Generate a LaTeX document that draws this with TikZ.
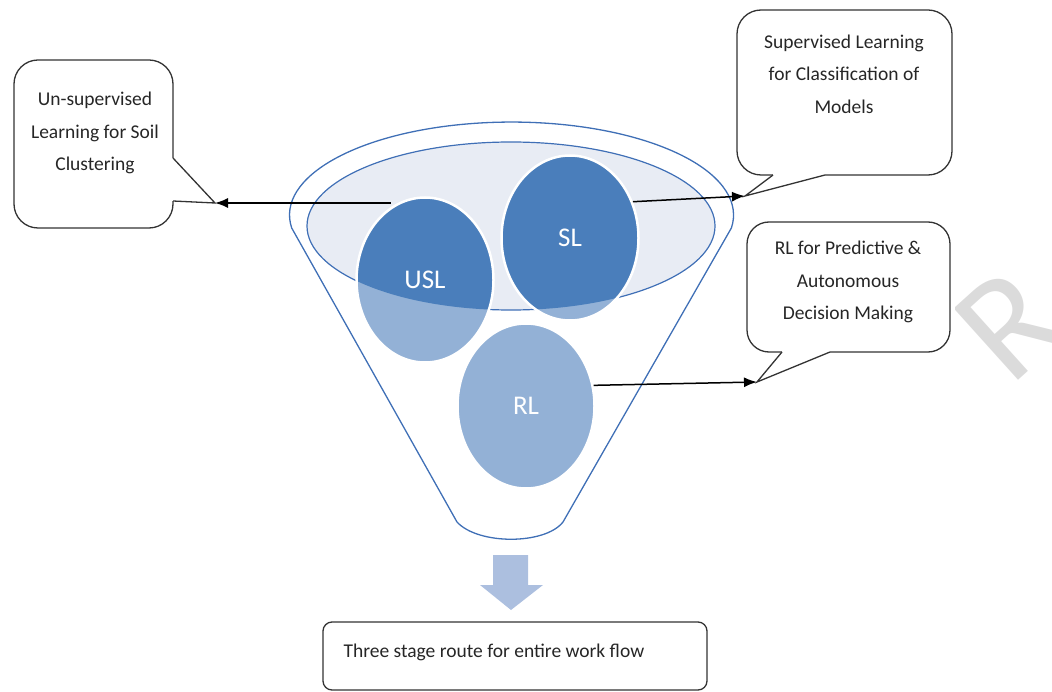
\documentclass[tikz,border=0pt]{standalone}
\usepackage{fontspec}
\setmainfont{Carlito}
\usetikzlibrary{shapes.geometric,arrows.meta}
\definecolor{embudo}{HTML}{3F6FB6}
\definecolor{bolaosc}{HTML}{4A7EBB}
\definecolor{bolacla}{HTML}{93B1D6}
\definecolor{cuenco}{HTML}{E8ECF4}
\definecolor{flecha}{HTML}{ACBFDF}
\begin{document}
\begin{tikzpicture}[x=1pt,y=-1pt,
                funnel/.style={draw=embudo,line width=1.3pt},
                bowl/.style={ellipse,draw=embudo,fill=cuenco,line width=1.2pt,inner sep=0pt,
                        minimum width=408pt,minimum height=168pt},
                blob/.style={ellipse,fill=bolacla,draw=white,line width=2.5pt,inner sep=0pt,
                        minimum width=137pt,minimum height=165pt,text=white,
                        font=\fontsize{27}{27}\selectfont,
                        path picture={\fill[bolaosc] (bowl.center) ellipse [x radius=204pt,y radius=84pt];}},
                bubble/.style={draw=black!80,line width=1.3pt,rounded corners=24pt,inner sep=0pt},
                tail/.style={draw=black!80,line width=1.3pt,line join=miter},
                note/.style={align=center,text=black!85,font=\fontsize{19.5}{32.5}\selectfont},
                link/.style={line width=1.5pt,-{Latex[length=13pt,width=10pt]}}]
                \useasboundingbox (0,0) rectangle (1052,692);
                % marca de agua
                \begin{scope}
                \clip (955,0) rectangle (1052,692);
                \node[rotate=42,anchor=base west,inner sep=0pt,text=black!14,
                        font=\fontsize{150}{150}\selectfont] (marca) at (1010,388) {R};
                \end{scope}
                % embudo
                \draw[funnel] (291.7,228) arc[start angle=172,end angle=368,x radius=222,y radius=93]
                        -- (563,522) .. controls (545,545) and (478,545) .. (457,522) -- cycle;
                \node[bowl] (bowl) at (511,226) {};
                \node[blob] (rl) at (526,406) {RL};
                \node[blob] (usl) at (425,280) {USL};
                \node[blob] (sl) at (570,238) {SL};
                % globos
                \node[bubble,minimum width=159pt,minimum height=168pt] (uBox) at (93.5,144) {};
                \node[note] (uText) at (95,133) {Un-supervised\\Learning for Soil\\Clustering};
                \coordinate (uTip) at (215,203);
                \fill[white] (171.5,158) rectangle (174.5,201);
                \draw[tail] (173,158) -- (uTip) -- (173,201);
                \node[bubble,minimum width=215pt,minimum height=165pt] (sBox) at (844.5,92.5) {};
                \node[note] (sText) at (844,74) {Supervised Learning\\for Classification of\\Models};
                \coordinate (sTip) at (745,196);
                \fill[white] (773,173.5) rectangle (825,176.5);
                \draw[tail] (773,175) -- (sTip) -- (825,175);
                \node[bubble,rounded corners=22pt,minimum width=203pt,minimum height=130pt] (rBox) at (848.5,287) {};
                \node[note] (rText) at (848,282) {RL for Predictive \&\\Autonomous\\Decision Making};
                \coordinate (rTip) at (757,382);
                \fill[white] (782,350.5) rectangle (830,353.5);
                \draw[tail] (782,352) -- (rTip) -- (830,352);
                % flechas
                \draw[link] (uTip -| usl.115) -- (uTip);
                \draw[link] (sl.30) -- (sTip);
                \draw[link] (rl.17) -- (rTip);
                \fill[flecha] (493,555) -- (528,555) -- (528,585) -- (543,585) -- (511,610)
                        -- (480,585) -- (493,585) -- cycle;
                \node[bubble,rounded corners=9pt,minimum width=384pt,minimum height=68pt] (routeBox) at (515,656) {};
                \node[note,anchor=west] (routeText) at (340,652) {Three stage route for entire work flow};
\end{tikzpicture}
\end{document}
